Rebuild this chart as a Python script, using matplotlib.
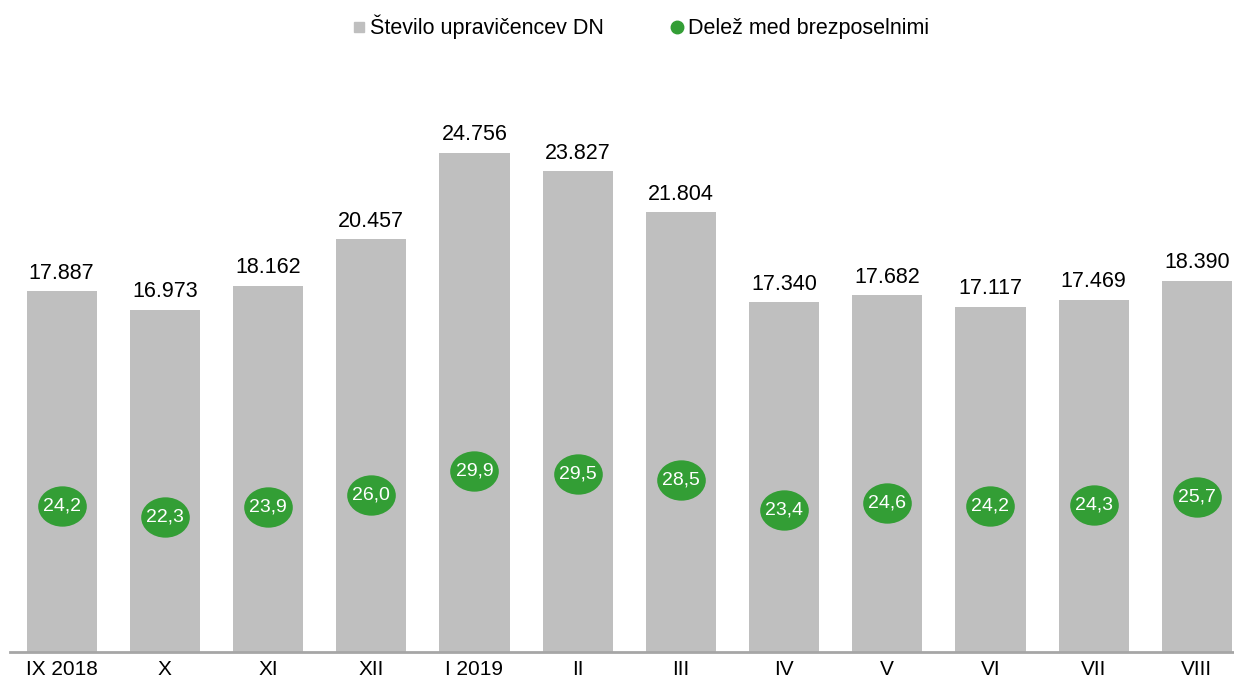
import numpy as np
import matplotlib.pyplot as plt
from matplotlib.path import Path
from matplotlib.lines import Line2D

plt.rcParams['font.family'] = ['Liberation Sans', 'DejaVu Sans']

# podatki
meseci = ["IX 2018", "X", "XI", "XII", "I 2019", "II", "III", "IV", "V", "VI", "VII", "VIII"]
upravicenci = [17887, 16973, 18162, 20457, 24756, 23827, 21804, 17340, 17682, 17117, 17469, 18390]
delez = [24.2, 22.3, 23.9, 26.0, 29.9, 29.5, 28.5, 23.4, 24.6, 24.2, 24.3, 25.7]

siva = "#bfbfbf"
zelena = "#339e35"

# eliptični marker (širši kot visok)
krog = Path.unit_circle()
elipsa = Path(krog.vertices * np.array([1.0, 0.83]), krog.codes)

fig = plt.figure(figsize=(12.34, 6.85), dpi=100)
W, H = 1234, 685
ax = fig.add_axes([10 / W, (H - 652) / H, (W - 10) / W, 605 / H])
x = np.arange(len(meseci))

ax.bar(x, upravicenci, width=0.68, color=siva, zorder=2)
for xi, v in zip(x, upravicenci):
    s = f"{v:,}".replace(",", ".")
    ax.text(xi, v + 380, s, ha="center", va="bottom", fontsize=15.5, color="black")

ax.set_xlim(-0.5, 11.36)
ax.set_ylim(0, 30000)
ax.set_yticks([])
ax.set_xticks(x)
ax.set_xticklabels(meseci, fontsize=15)
ax.tick_params(axis="x", length=0, pad=6)
for sp in ["top", "right", "left"]:
    ax.spines[sp].set_visible(False)
ax.spines["bottom"].set_color("#a6a6a6")
ax.spines["bottom"].set_linewidth(2)

ax2 = ax.twinx()
ax2.set_ylim(0, 100)
ax2.set_yticks([])
for sp in ax2.spines.values():
    sp.set_visible(False)
ax2.plot(x, delez, linestyle="none", marker=elipsa, markersize=35,
         color=zelena, markeredgewidth=0, zorder=3)
for xi, v in zip(x, delez):
    ax2.text(xi, v, f"{v:.1f}".replace(".", ","), ha="center", va="center",
             fontsize=14, color="white", zorder=4)

h1 = Line2D([], [], linestyle="none", marker="s", markersize=7, color=siva)
h2 = Line2D([], [], linestyle="none", marker="o", markersize=9, color=zelena)
fig.legend([h1, h2], ["Število upravičencev DN", "Delež med brezposelnimi"],
           loc="center", bbox_to_anchor=(640 / W, 1 - 27 / H), ncol=2, frameon=False,
           fontsize=15.5, handletextpad=0.1, columnspacing=3.0, handlelength=0.8)

fig.savefig("out.png", dpi=100)
